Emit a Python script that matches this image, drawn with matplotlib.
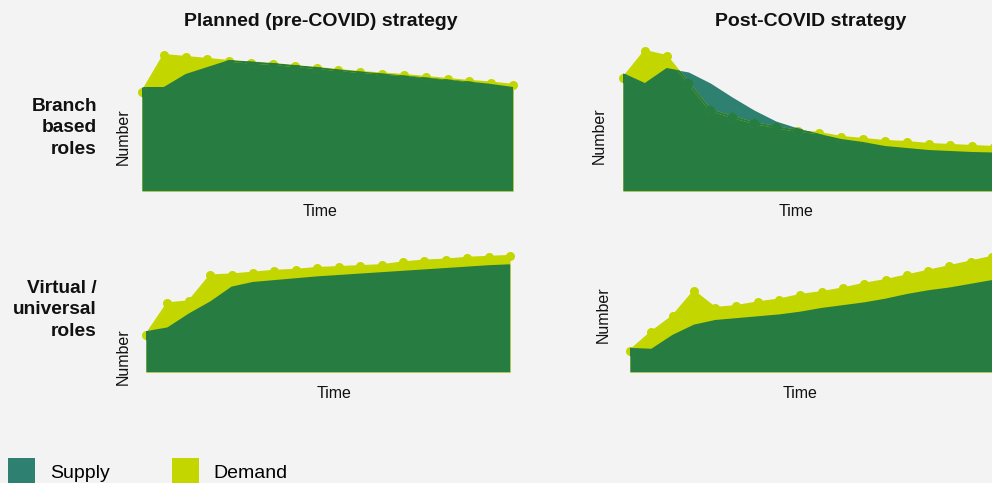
import numpy as np
import matplotlib
matplotlib.use("Agg")
import matplotlib.pyplot as plt
from matplotlib.patches import Patch

plt.rcParams['font.family'] = ['Liberation Sans', 'DejaVu Sans']

# ---- data (arbitrary "number" units over time steps) ----
time_steps = list(range(18))

pre_branch_demand = [99, 136, 134, 132, 130, 128.5, 127, 125, 123, 121, 119, 117.5, 116, 114, 112, 110, 108.5, 106]
pre_branch_supply = [104, 104, 117, 124, 131, 129.5, 128, 126, 124, 121.5, 119.5, 117.5, 115.5, 113.5, 111.5, 109.5, 107, 104]

post_branch_demand = [113, 140, 135, 108, 81, 74, 68, 64, 60, 58, 54, 52, 50, 49, 47, 46, 45, 44]
post_branch_supply = [118, 108, 123, 119, 108, 94, 81, 70, 63, 57, 52, 49, 45, 43, 41, 40, 39, 38.5]

pre_virtual_demand = [40, 74, 76, 104, 105, 107, 109, 110, 112, 113, 114, 115, 118, 120, 121, 123, 124, 125]
pre_virtual_supply = [44, 48, 63, 76, 92, 97, 99, 101, 103, 104.5, 106, 107.5, 109, 110.5, 112, 113.5, 115, 116]

post_virtual_demand = [23, 43, 60, 87, 69, 71, 75, 78, 83, 86, 90, 95, 99, 104, 109, 114, 119, 124]
post_virtual_supply = [26, 25, 40, 51, 56, 58, 60, 62, 65, 69, 72, 75, 79, 84, 88, 91, 95, 99]

col_titles = ["Planned (pre-COVID) strategy", "Post-COVID strategy"]
row_labels = ["Branch\nbased\nroles", "Virtual /\nuniversal\nroles"]
legend_labels = ["Supply", "Demand"]

BG = "#f3f3f3"
TEAL = "#2e8070"
YELLOW = "#c4d600"
DKGREEN = "#277c42"

W, H = 992, 483
fig = plt.figure(figsize=(W / 100, H / 100), dpi=100, facecolor=BG)


def px_axes(left, right, bottom, height):
    return fig.add_axes([left / W, 1 - bottom / H, (right - left) / W, height / H])


def draw_panel(ax, demand, supply):
    x = np.array(time_steps, dtype=float)
    d = np.array(demand, dtype=float)
    s = np.array(supply, dtype=float)
    ax.set_facecolor("none")
    sup = ax.fill_between(x, 0, s, color=TEAL, linewidth=0)
    ax.fill_between(x, 0, d, color=YELLOW, linewidth=0)
    ax.plot(x, d, "-o", color=YELLOW, lw=1.5, ms=6.5, mew=0, clip_on=False)
    # overlap region (demand within supply) shown in dark green
    clip_path = sup.get_paths()[0]
    ov = ax.fill_between(x, 0, d, color=DKGREEN, linewidth=0)
    ov.set_clip_path(clip_path, ax.transData)
    ln, = ax.plot(x, d, "-o", color=DKGREEN, lw=1.5, ms=7, mew=0)
    ln.set_clip_path(clip_path, ax.transData)
    ax.set_xlim(0, 17)
    ax.set_ylim(0, 140)
    ax.set_xticks([])
    ax.set_yticks([])
    for sp in ax.spines.values():
        sp.set_visible(False)


ax_tl = px_axes(142, 513, 191, 140)
ax_tr = px_axes(623, 994, 191, 140)
ax_bl = px_axes(146, 510, 372, 130)
ax_br = px_axes(630, 992, 372, 130)

draw_panel(ax_tl, pre_branch_demand, pre_branch_supply)
draw_panel(ax_tr, post_branch_demand, post_branch_supply)
draw_panel(ax_bl, pre_virtual_demand, pre_virtual_supply)
draw_panel(ax_br, post_virtual_demand, post_virtual_supply)


def ftext(x, y, s, **kw):
    fig.text(x / W, 1 - y / H, s, **kw)


ftext(321, 21, col_titles[0], ha="center", va="center", fontsize=14, fontweight="bold", color="#111111")
ftext(811, 21, col_titles[1], ha="center", va="center", fontsize=14, fontweight="bold", color="#111111")

ftext(97, 128, row_labels[0], ha="right", va="center", fontsize=13.8, fontweight="bold",
      color="#111111", linespacing=1.38, multialignment="right")
ftext(97, 310, row_labels[1], ha="right", va="center", fontsize=13.8, fontweight="bold",
      color="#111111", linespacing=1.38, multialignment="right")

for (xx, yy) in [(123, 137), (599, 136), (123, 357), (603, 315)]:
    ftext(xx, yy, "Number", ha="center", va="center", rotation=90, fontsize=11.5, color="#111111")
for (xx, yy) in [(320, 211), (796, 211), (334, 394), (800, 394)]:
    ftext(xx, yy, "Time", ha="center", va="center", fontsize=11.5, color="#111111")

handles = [Patch(facecolor=TEAL, edgecolor="none"), Patch(facecolor=YELLOW, edgecolor="none")]
fig.legend(handles, legend_labels, loc="upper left", bbox_to_anchor=(8 / W, 1 - 458 / H),
           ncol=2, frameon=False, fontsize=14, handlelength=1.4, handleheight=1.8,
           handletextpad=0.75, columnspacing=3.2, borderpad=0, borderaxespad=0)

fig.savefig("out.png", dpi=100, facecolor=BG)
